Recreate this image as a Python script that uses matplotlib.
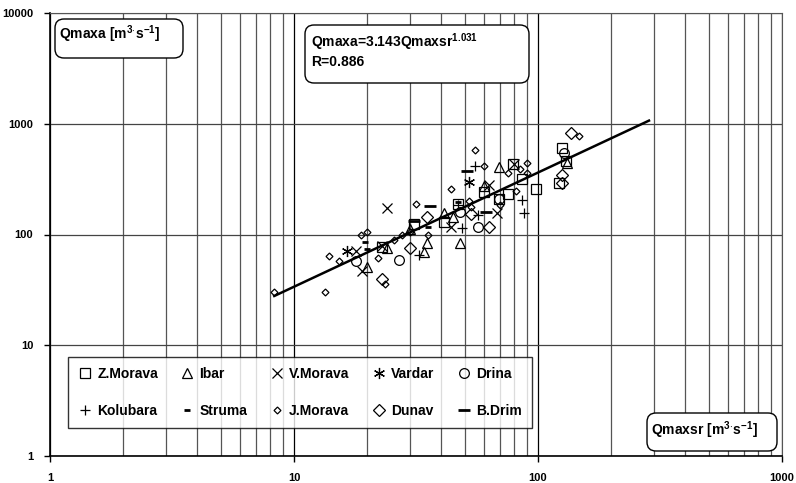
import matplotlib
matplotlib.use('Agg')
from matplotlib import pyplot as plt
from matplotlib.patches import FancyBboxPatch
from matplotlib.transforms import IdentityTransform
from matplotlib.ticker import LogLocator, FixedLocator, NullFormatter
import numpy as np

plt.rcParams['font.family'] = ['Liberation Sans', 'DejaVu Sans']
plt.rcParams['font.weight'] = 'bold'
plt.rcParams['mathtext.fontset'] = 'custom'
plt.rcParams['mathtext.bf'] = 'Liberation Sans:bold'
plt.rcParams['mathtext.rm'] = 'Liberation Sans:bold'
plt.rcParams['mathtext.default'] = 'bf'

# Qmaxsr (x) and Qmaxa (y) per river basin, m3/s
zmorava_x = [125, 122, 130, 79, 86, 98, 60, 75, 69, 41, 31, 23, 47]
zmorava_y = [600, 290, 458, 433, 319, 259, 244, 232, 209, 129, 124, 77, 188]
ibar_x = [69, 60, 41, 48, 35, 34, 24, 20, 45, 30, 131]
ibar_y = [404, 274, 157, 83, 83, 70, 75, 51, 145, 111, 445]
vmorava_x = [80, 63, 68, 44, 24, 23, 18, 19]
vmorava_y = [430, 278, 157, 118, 173, 79, 71, 47]
vardar_x = [52, 16.5]
vardar_y = [298, 71]
drina_x = [128, 69, 48, 57, 27, 18]
drina_y = [540, 209, 159, 117, 59, 58]
kolubara_x = [55, 86, 88, 57, 49, 32.5, 47]
kolubara_y = [418, 205, 157, 149, 115, 65, 186]
struma_x = [19.6, 20, 35.5, 47]
struma_y = [85, 74, 117, 198]
jmorava_x = [8.3, 13.4, 13.9, 15.3, 18.9, 19.9, 22, 23.7, 25.7, 27.6, 30, 31.6,
             35.5, 44, 52, 53, 55, 60, 75, 84, 90, 90, 81, 70, 147]
jmorava_y = [30, 30, 64, 58, 100, 105, 61, 36, 89, 100, 106, 190,
             98, 257, 202, 177, 575, 413, 361, 388, 439, 357, 247, 183, 780]
dunav_x = [137, 126, 126, 35, 53, 63, 30, 23]
dunav_y = [820, 345, 294, 143, 154, 118, 75, 40]
bdrim_x = [51, 36, 61, 31]
bdrim_y = [378, 182, 161, 132]

# power-law fit Qmaxa = a * Qmaxsr^b
trend_a = 3.143
trend_b = 1.031
trend_r = 0.886
trend_x = [8.3, 285]

unit = r'[m$^{3\!\cdot\!}$s$^{-1}$]'

W, H = 796, 483
fig = plt.figure(figsize=(W / 100, H / 100), dpi=100)
ax = fig.add_axes([50 / W, 27 / H, 732 / W, 443 / H])
ax.set_xscale('log')
ax.set_yscale('log')
ax.set_xlim(1, 1000)
ax.set_ylim(1, 10000)

# grid: every minor step vertically, decades only horizontally
ax.xaxis.set_minor_locator(LogLocator(base=10, subs=np.arange(2, 10)))
ax.xaxis.set_minor_formatter(NullFormatter())
ax.yaxis.set_minor_locator(FixedLocator([]))
ax.grid(True, which='minor', axis='x', color='#555555', lw=0.9)
ax.grid(True, which='major', axis='x', color='black', lw=0.9)
ax.grid(True, which='major', axis='y', color='#444444', lw=0.9)
ax.set_axisbelow(True)
ax.tick_params(which='minor', length=0)
ax.tick_params(which='major', direction='out', length=4, width=1,
               labelsize=8, pad=8)
ax.set_xticks([1, 10, 100, 1000])
ax.set_xticklabels(['1', '10', '100', '1000'], fontweight='bold')
ax.set_yticks([1, 10, 100, 1000, 10000])
ax.set_yticklabels(['1', '10', '100', '1000', '10000'], fontweight='bold')
for side in ['top', 'right']:
    ax.spines[side].set_color('#555555')
for side in ['left', 'bottom']:
    ax.spines[side].set_linewidth(1.2)

kw = dict(ls='none', mfc='none', mec='black', mew=0.9)
h_zm, = ax.plot(zmorava_x, zmorava_y, marker='s', ms=6.5, label='Z.Morava', **kw)
h_ib, = ax.plot(ibar_x, ibar_y, marker='^', ms=7, label='Ibar', **kw)
h_vm, = ax.plot(vmorava_x, vmorava_y, marker='x', ms=7, label='V.Morava', **kw)
h_va, = ax.plot(vardar_x, vardar_y, marker=(6, 2, 0), ms=8, label='Vardar', **kw)
h_dr, = ax.plot(drina_x, drina_y, marker='o', ms=7, label='Drina', **kw)
h_ko, = ax.plot(kolubara_x, kolubara_y, marker='+', ms=7, label='Kolubara', **kw)
h_st, = ax.plot(struma_x, struma_y, marker='_', ms=5,
                ls='none', mec='black', mew=2, label='Struma')
h_jm, = ax.plot(jmorava_x, jmorava_y, marker='D', ms=3.5, label='J.Morava', **kw)
h_du, = ax.plot(dunav_x, dunav_y, marker='D', ms=6, label='Dunav', **kw)
h_bd, = ax.plot(bdrim_x, bdrim_y, marker='_', ms=8,
                ls='none', mec='black', mew=2, label='B.Drim')

tx = np.array(trend_x)
ax.plot(tx, trend_a * tx ** trend_b, color='black', lw=1.8)

# legend, filled column by column
handles = [h_zm, h_ko, h_ib, h_st, h_vm, h_jm, h_va, h_du, h_dr, h_bd]
leg = ax.legend(handles=handles, ncol=5, loc='lower left',
                bbox_to_anchor=(68 / W, 55 / H), bbox_transform=fig.transFigure,
                borderaxespad=0, frameon=True, fancybox=False, edgecolor='black',
                handlelength=1.0, handletextpad=0.4, columnspacing=1.6,
                borderpad=0.7, labelspacing=1.68, prop={'size': 10, 'weight': 'bold'})
leg.get_frame().set_linewidth(1.0)


def rounded_box(x0, y0, x1, y1):
    box = FancyBboxPatch((x0, H - y1), x1 - x0, y1 - y0,
                         boxstyle='round,pad=0,rounding_size=9',
                         transform=IdentityTransform(), fc='white',
                         ec='black', lw=1.0, zorder=5, clip_on=False)
    ax.add_patch(box)


rounded_box(55, 19, 183, 58)
fig.text(59 / W, 1 - 34 / H, 'Qmaxa ' + unit,
         fontsize=10, fontweight='bold', va='center', zorder=6)

rounded_box(305, 25, 529, 83)
fig.text(311 / W, 1 - 42 / H, 'Qmaxa=%.3fQmaxsr$^{%.3f}$' % (trend_a, trend_b),
         fontsize=10, fontweight='bold', va='center', zorder=6)
fig.text(311 / W, 1 - 62 / H, 'R=%.3f' % trend_r,
         fontsize=10, fontweight='bold', va='center', zorder=6)

rounded_box(647, 413, 777, 451)
fig.text(651 / W, 1 - 430 / H, 'Qmaxsr ' + unit,
         fontsize=10, fontweight='bold', va='center', zorder=6)

fig.savefig('out.png', dpi=100)
